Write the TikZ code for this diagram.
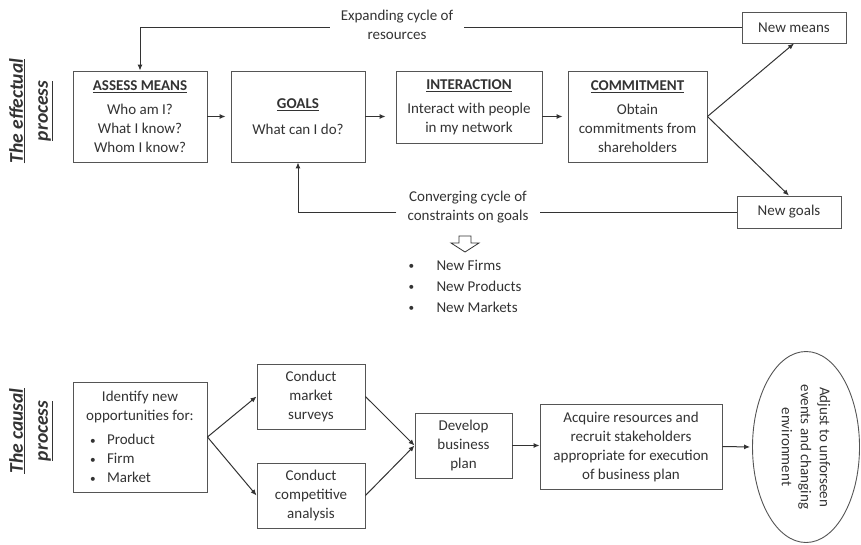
\documentclass[tikz,border=0pt]{standalone}
\usepackage{fontspec}
\setmainfont{Carlito}
\usetikzlibrary{arrows.meta,shapes.geometric}
\definecolor{ink}{HTML}{333333}
\definecolor{edge}{HTML}{555555}
\newcommand{\smbul}{\raisebox{0.5pt}{\scalebox{0.75}{\textbullet}}}
\begin{document}
\begin{tikzpicture}[x=1pt,y=-1pt,
  txt/.style={font=\fontsize{15}{19}\selectfont, text=ink, align=center},
  box/.style={txt, draw=edge, line width=0.9pt, fill=white, inner sep=2pt},
  arr/.style={-{Latex[length=6pt,width=5pt]}, draw=ink, line width=1pt},
  ln/.style={draw=ink, line width=1pt},
  side/.style={font=\fontsize{19.5}{25}\selectfont\bfseries\itshape, text=ink, align=center, rotate=90}
]
\useasboundingbox (0,0) rectangle (861,544);

% ---------- effectual process ----------
\node[side] (eff) at (31,111) {\underline{The effectual}\\\underline{process}};

\node[box, minimum width=134pt, minimum height=91pt] (am) at (140,116.5)
  {\textbf{\underline{ASSESS MEANS}}\\[5pt]Who am I?\\What I know?\\Whom I know?};
\node[box, minimum width=134pt, minimum height=91pt] (goals) at (298,116.5)
  {\textbf{\underline{GOALS}}\\[7pt]What can I do?};
\node[box, minimum width=146pt, minimum height=72pt] (inter) at (469,107)
  {\textbf{\underline{INTERACTION}}\\[5pt]Interact with people\\in my network};
\node[box, minimum width=139pt, minimum height=91pt] (comm) at (637.5,116.5)
  {\textbf{\underline{COMMITMENT}}\\[5pt]Obtain\\commitments from\\shareholders};
\node[box, minimum width=104pt, minimum height=31pt] (nm) at (794,27.5) {New means};
\node[box, minimum width=104pt, minimum height=32pt] (ng) at (789,212) {New goals};

\node[txt, inner sep=11pt] (exp) at (397,25) {Expanding cycle of\\resources};
\node[txt, inner sep=11pt] (cv) at (468,207) {Converging cycle of\\constraints on goals};

\draw[arr, shorten >=5pt] (am.east) -- (goals.west);
\draw[arr, shorten >=10pt] (goals.east) -- (inter.west |- goals.east);
\draw[arr, shorten >=5pt] (inter.east |- goals.east) -- (comm.west);
\draw[arr] (comm.east) -- (nm.south);
\draw[arr] (comm.east) -- (ng.north);

\draw[ln] (nm.west) -- (exp.east |- nm.west);
\draw[arr] (exp.west |- nm.west) -| (am.north);
\draw[ln] (ng.west) -- (cv.east |- ng.west);
\draw[arr] (cv.west |- ng.west) -| (goals.south);

% hollow arrow
\draw[draw=ink, line width=0.8pt, fill=white]
  (459,236) -- (471,236) -- (471,243) -- (479,243) -- (465,252) -- (451,243) -- (459,243) -- cycle;

\node[txt, align=left, anchor=west, font=\fontsize{15}{21}\selectfont] (list) at (405,286)
  {\makebox[28pt][l]{\smbul}New Firms\\\makebox[28pt][l]{\smbul}New Products\\\makebox[28pt][l]{\smbul}New Markets};

% ---------- causal process ----------
\node[side] (cau) at (31,431) {\underline{The causal}\\\underline{process}};

\node[box, minimum width=134pt, minimum height=110pt] (iden) at (140,437)
  {Identify new\\opportunities for:\\[5pt]%
   \makebox[120pt][l]{\hspace{10pt}\makebox[17pt][l]{\smbul}Product}\\
   \makebox[120pt][l]{\hspace{10pt}\makebox[17pt][l]{\smbul}Firm}\\
   \makebox[120pt][l]{\hspace{10pt}\makebox[17pt][l]{\smbul}Market}};
\node[box, minimum width=108pt, minimum height=65pt] (surv) at (311,396.5)
  {Conduct\\market\\surveys};
\node[box, minimum width=108pt, minimum height=65pt] (comp) at (311,495.5)
  {Conduct\\competitive\\analysis};
\node[box, minimum width=97pt, minimum height=65pt] (dev) at (463.5,445.5)
  {Develop\\business\\plan};
\node[box, minimum width=182pt, minimum height=85pt] (acq) at (631,446.5)
  {Acquire resources and\\recruit stakeholders\\appropriate for execution\\of business plan};
\node[ellipse, draw=edge, line width=0.9pt, minimum width=107pt, minimum height=191pt, inner sep=0pt] (ell) at (806,447) {};
\node[txt, rotate=-90] (elltxt) at (ell.center) {Adjust to unforseen\\events and changing\\environment};

\draw[arr] (iden.east) -- (surv.west);
\draw[arr] (iden.east) -- (comp.west);
\draw[arr] (surv.east) -- (dev.west);
\draw[arr] (comp.east) -- (dev.west);
\draw[arr] (dev.east) -- (acq.west |- dev.east);
\draw[arr, shorten >=2pt] (acq.east) -- (ell.west);
\end{tikzpicture}
\end{document}
